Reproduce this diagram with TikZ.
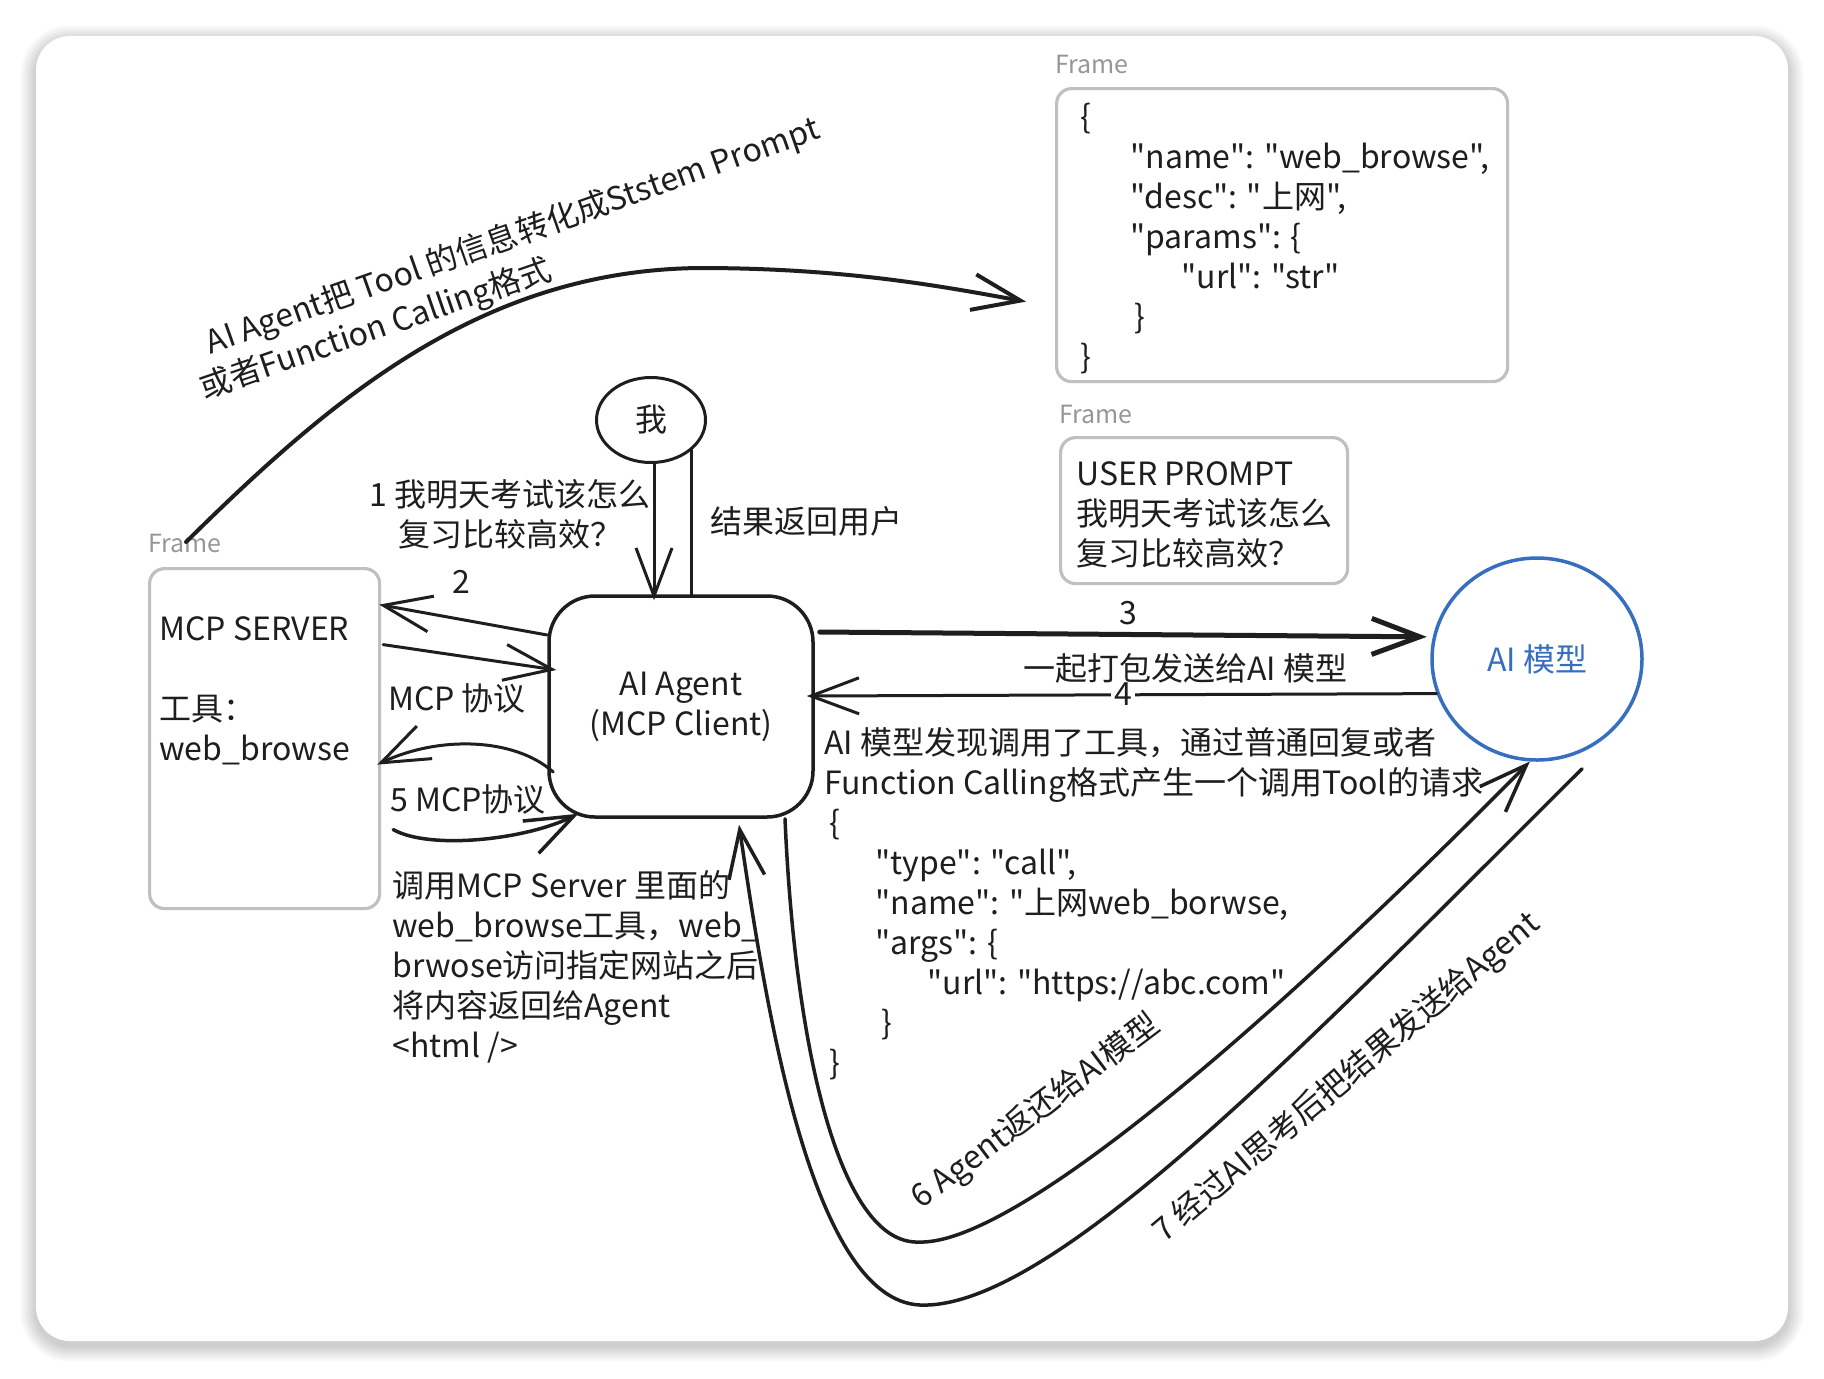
\documentclass[tikz,border=0pt]{standalone}
\usepackage{fontspec}
\newfontfamily\hw{Noto Sans CJK SC}
\usetikzlibrary{arrows.meta,shapes.geometric,calc}
\definecolor{aiblue}{RGB}{56,110,192}
\definecolor{framegray}{RGB}{192,192,192}
\definecolor{labelgray}{RGB}{150,150,150}
\definecolor{ink}{RGB}{30,30,30}
\begin{document}
\begin{tikzpicture}[x=0.5pt,y=-0.5pt,
  txt/.style={font=\hw\fontsize{16pt}{20pt}\selectfont, inner sep=0pt, text=ink},
  framelbl/.style={font=\hw\fontsize{12.5pt}{15pt}\selectfont, text=labelgray, inner sep=0pt, anchor=west},
  framebox/.style={draw=framegray, line width=1.6pt, rounded corners=7.5pt, inner sep=0pt, anchor=north west},
  conn/.style={draw=ink, line width=1.5pt, line cap=round, line join=round},
  barb/.style={-{Straight Barb[length=24pt,width=18pt]}}
]
\useasboundingbox (0,0) rectangle (1824,1378);
\fill[white] (0,0) rectangle (1824,1378);
% soft shadow of the card
\foreach \i in {16,...,1}{
  \pgfmathsetmacro\rc{17+\i*0.5}
  \fill[black, opacity=0.010, rounded corners=\rc pt] (36-\i,36-\i+5) rectangle (1788+\i,1341+\i+5);
}
\fill[white, rounded corners=17pt] (36,36) rectangle (1788,1341);

% frames
\node[framebox, minimum width=225.5pt, minimum height=146.5pt] (json) at (1055,87) {};
\node[framelbl] (jsonlbl) at (1055,64) {Frame};
\node[txt, align=left, anchor=north west] (jsontxt) at (1080,100)
  {\strut\{\\\hspace*{25pt}"name": "web\_browse",\\\hspace*{25pt}"desc": "上网",\\\hspace*{25pt}"params": \{\\\hspace*{50.5pt}"url": "str"\\\hspace*{27pt}\}\\\}};

\node[framebox, minimum width=143.5pt, minimum height=73pt] (prompt) at (1059,436) {};
\node[framelbl] (promptlbl) at (1059,414) {Frame};
\node[txt, align=left, anchor=north west] (prompttxt) at (1076,457)
  {\strut USER PROMPT\\我明天考试该怎么\\复习比较高效？};

\node[framebox, minimum width=115pt, minimum height=170pt] (mcp) at (148,567) {};
\node[framelbl] (mcplbl) at (148,543) {Frame};
\node[txt, align=left, anchor=north west] (mcptxt) at (159,612)
  {\strut MCP SERVER\\[20pt]工具：\\web\_browse};

% main nodes
\node[txt, draw=ink, line width=1.75pt, rounded corners=23pt, minimum width=132pt, minimum height=110.5pt, align=center] (agent) at (681,706.5) {AI Agent\\(MCP Client)};
\node[txt, ellipse, draw=ink, line width=1.5pt, minimum width=54.5pt, minimum height=42.5pt] (me) at (651,420) {我};
\node[txt, ellipse, draw=aiblue, line width=1.75pt, minimum width=105pt, minimum height=101pt, text=aiblue] (aim) at (1537,659) {AI 模型};

% top curve
\draw[conn, line width=2pt, barb] ($(mcp.north west)+(38,-25)$) .. controls (330,400) and (480,270) .. (700,268) .. controls (850,268) and (950,288) .. ($(json.west)+(-29,66.5)$);
\node[txt, rotate=19.5] (ltop1) at (513,237) {AI Agent把 Tool 的信息转化成Ststem Prompt};
\node[txt, rotate=19] (ltop2) at (376,330) {或者Function Calling格式};

% me <-> agent
\draw[conn, barb] ($(me.south)+(3,0)$) -- ($(me.south |- agent.north)+(3,6)$);
\draw[conn] ($(agent.north)+(10,2)$) -- ($(me.center)+(40,29)$);
\node[txt, align=center] (l1) at (510,514) {1 我明天考试该怎么\\复习比较高效？};
\node[txt] (lres) at (806,521) {结果返回用户};

% agent <-> mcp
\draw[conn, barb] ($(agent.west)+(0,-71.5)$) -- ($(mcp.east)+(-2,-134)$);
\node[txt] (l2) at (461,582) {2};
\draw[conn, barb] ($(mcp.east)+(2,-94)$) -- ($(agent.west)+(9,-36.5)$);
\node[txt] (lmcp) at (457,698) {MCP 协议};
\draw[conn, barb] ($(agent.west)+(6,65.5)$) .. controls (515,738) and (440,735) .. ($(mcp.east)+(-4,26)$);
\node[txt] (l5) at (468,799) {5 MCP协议};
\draw[conn, line width=1.75pt, barb] ($(mcp.east)+(12,91)$) .. controls (430,850) and (525,840) .. ($(agent.south west)+(31,-5)$);
\node[txt, align=left, anchor=north west] (calltool) at (392,869)
  {\strut 调用MCP Server 里面的\\web\_browse工具，web\_\\brwose访问指定网站之后\\将内容返回给Agent\\<html />};

% agent <-> AI model
\draw[conn, line width=2.5pt, barb] ($(agent.east)+(5,-74.5)$) -- ($(aim.168)+(-6,0)$);
\node[txt] (l3) at (1128,613) {3};
\draw[conn, barb] (aim.199) -- ($(agent.east)+(-8,-10.5)$);
\node[txt, fill=white, inner sep=1.5pt] (l4) at (1123,694) {4};
\node[txt] (l4b) at (1185,668) {一起打包发送给AI 模型};
\node[txt, align=left, anchor=north west] (calltxt) at (824,726)
  {\strut AI 模型发现调用了工具，通过普通回复或者\\Function Calling格式产生一个调用Tool的请求\\\hspace*{2.5pt}\{\\\hspace*{25.5pt}"type": "call",\\\hspace*{25.5pt}"name": "上网web\_borwse,\\\hspace*{25.5pt}"args": \{\\\hspace*{51.5pt}"url": "https://abc.com"\\\hspace*{28.5pt}\}\\\hspace*{2.5pt}\}};

% long loops 6 and 7
\draw[conn, line width=1.75pt, barb] ($(agent.south)+(104,0)$) .. controls (795,1050) and (840,1245) .. (919,1242) .. controls (1010,1245) and (1250,1045) .. (aim.266);
\node[txt, rotate=37] (l6) at (1036,1112) {6 Agent返还给AI模型};
\draw[conn, line width=1.75pt, barb] ($(aim.south)+(45,7)$) .. controls (1300,1050) and (1050,1310) .. (920,1305) .. controls (810,1300) and (765,1000) .. ($(agent.south)+(58,6)$);
\node[txt, rotate=40] (l7) at (1347,1078) {7 经过AI思考后把结果发送给Agent};
\end{tikzpicture}
\end{document}
